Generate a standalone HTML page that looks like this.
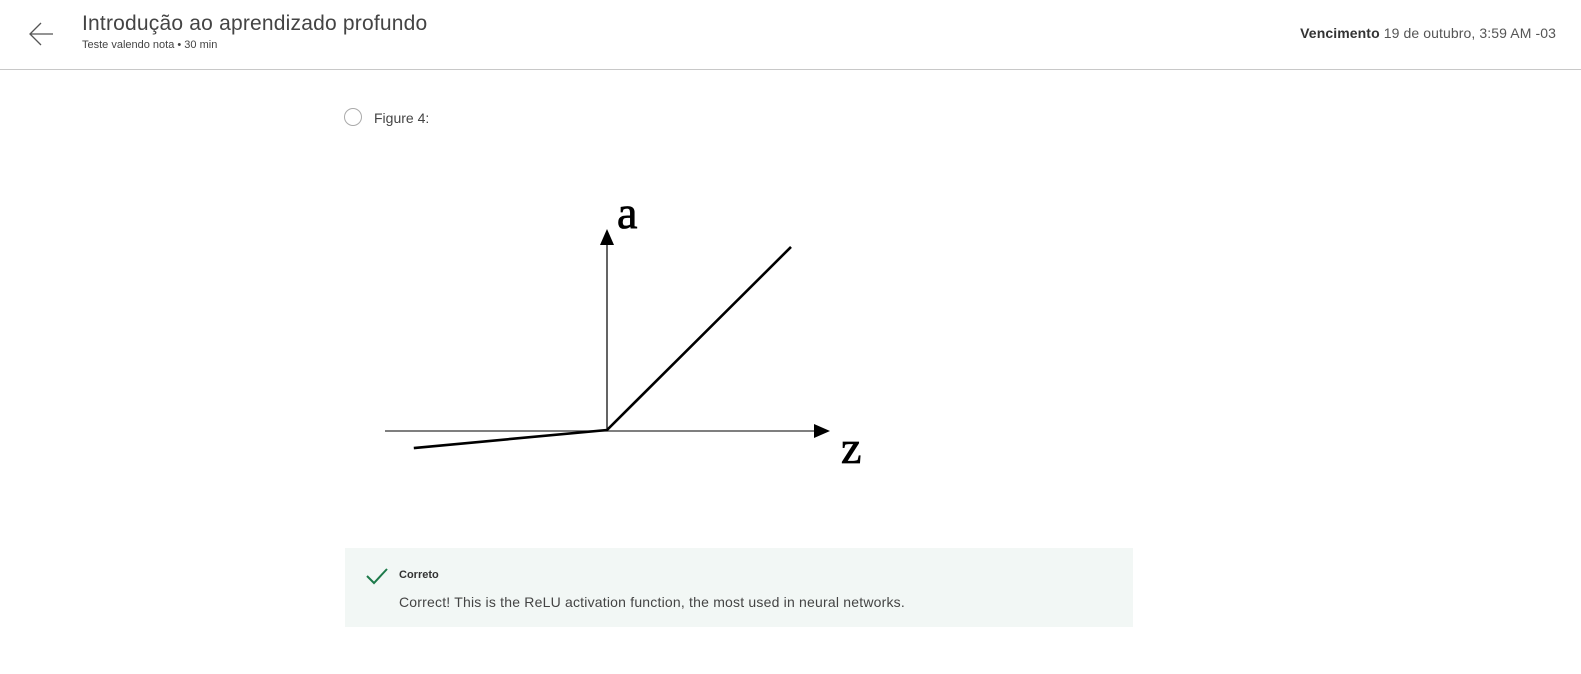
<!DOCTYPE html>
<html><head><meta charset="utf-8"><style>
body{margin:0;width:1581px;height:674px;background:#fff;font-family:"Liberation Sans",sans-serif;position:relative;overflow:hidden;color:#333}
.abs{position:absolute}
</style></head><body>
<div class="abs" style="left:0;top:0;width:1581px;height:69px;border-bottom:1px solid #c8c8c8">
 <svg class="abs" style="left:27px;top:21px" width="28" height="26"><path d="M26 13H3M14 2L3 13L14 24" fill="none" stroke="#555" stroke-width="1.3"/></svg>
 <div class="abs" style="left:82px;top:12px;font-size:21px;color:#444;letter-spacing:0.2px">Introdução ao aprendizado profundo</div>
 <div class="abs" style="left:82px;top:39px;font-size:11px;color:#444">Teste valendo nota • 30 min</div>
 <div class="abs" style="right:25px;top:25px;font-size:14px;color:#555;letter-spacing:0.1px"><b style="color:#333">Vencimento</b> 19 de outubro, 3:59 AM -03</div>
</div>
<div class="abs" style="left:344px;top:108px;width:16px;height:16px;border:1.5px solid #aaa;border-radius:50%"></div>
<div class="abs" style="left:374px;top:110px;font-size:14px;color:#444">Figure 4:</div>
<svg class="abs" style="left:0;top:0" width="1581" height="674" id="fig"></svg>
<div class="abs" style="left:345px;top:548px;width:788px;height:79px;background:#f2f7f5">
 <svg class="abs" style="left:20px;top:18px" width="24" height="20"><path d="M2 10L9 17L22 3" fill="none" stroke="#1d7a4a" stroke-width="2"/></svg>
 <div class="abs" style="left:54px;top:21px;font-size:11px;font-weight:bold;color:#333">Correto</div>
 <div class="abs" style="left:54px;top:46px;font-size:14px;color:#444;letter-spacing:0.2px">Correct! This is the ReLU activation function, the most used in neural networks.</div>
</div>
<script>
const zVals=[-1.05,0,1.0];
const aVals=[-0.098,0,0.995];
const ox=607,oy=430,sx=184,sy=184;
const X=z=>ox+z*sx, Y=a=>oy-a*sy;
const svg=document.getElementById('fig');
const NS='http://www.w3.org/2000/svg';
function mk(t,at){const e=document.createElementNS(NS,t);for(const k in at)e.setAttribute(k,at[k]);svg.appendChild(e);return e;}
let e=mk('line',{x1:385,y1:431,x2:815,y2:431,stroke:'#333','stroke-width':1.3});


e=mk('polygon',{points:'814,424 830,431 814,438',fill:'#000'});


e=mk('line',{x1:607,y1:431,x2:607,y2:244,stroke:'#111','stroke-width':1.3});


e=mk('polygon',{points:'600,245 607,229 614,245',fill:'#000'});


e=mk('polyline',{points:zVals.map((z,i)=>X(z)+','+Y(aVals[i])).join(' '),fill:'none',stroke:'#000','stroke-width':2.6});


e=mk('text',{x:617,y:228,'font-size':46,'font-family':'Liberation Serif, serif',fill:'#000',stroke:'#000','stroke-width':0.8});e.textContent='a';


e=mk('text',{x:841,y:463,'font-size':46,'font-family':'Liberation Serif, serif',fill:'#000',stroke:'#000','stroke-width':0.8});e.textContent='z';


</script>
</body></html>
